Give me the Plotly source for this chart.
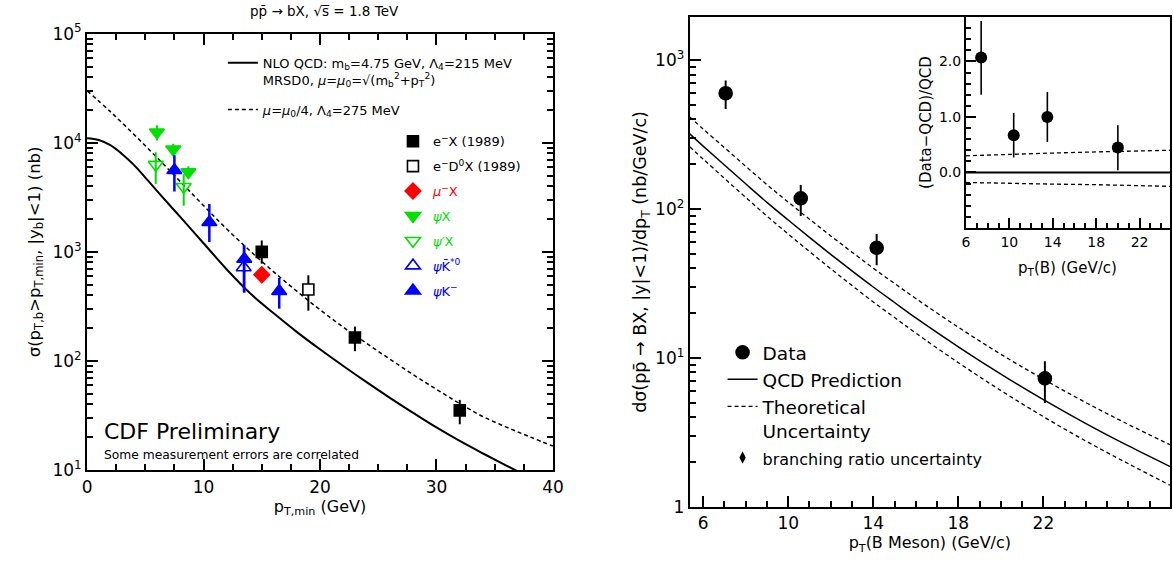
import plotly.graph_objects as go

FONT = "DejaVu Sans"
BLACK = "black"
RED = "#ff0000"
GREEN = "#00e000"
BLUE = "#0000ff"
SHORT_DASH = "4px,3px"

# ---------------- left panel: integrated b cross section ----------------
pt_min = [0, 1, 2, 3, 4, 5, 6, 8, 10, 12, 14, 16, 18, 20, 22, 24, 26, 28, 30, 32, 34, 36, 38, 40]
nlo_central = [11000, 10600, 9500, 7900, 6300, 4800, 3630, 2090, 1200, 690, 417, 275, 185, 128,
               90, 64, 46, 33.5, 24.6, 18.5, 14.2, 11.0, 8.6, 6.8]
pt_min_dash = [0, 2, 4, 6, 8, 10, 12, 14, 16, 18, 20, 22, 24, 26, 28, 30, 32, 34, 36, 38, 40]
nlo_low_scale = [30000, 19300, 12000, 7330, 4420, 2660, 1620, 1020, 660, 437, 295, 204, 145, 104,
                 75, 55, 40.7, 30.9, 24.8, 20.2, 16.6]

ex_pt = [15, 23, 32]
ex_sig = [1000, 164, 35.3]
ex_up = [270, 43, 8.7]
ex_dn = [220, 41, 9.0]

ed0x_pt = [19]
ed0x_sig = [452]
ed0x_up = [158]
ed0x_dn = [163]

mux_pt = [15]
mux_sig = [618]
mux_up = [100]
mux_dn = [100]

psix_pt = [6.0, 7.4, 8.7]
psix_sig = [12500, 8700, 5400]
psix_up = [2000, 1100, 700]
psix_dn = [2000, 1100, 700]

psi2x_pt = [5.9, 8.3]
psi2x_sig = [6300, 3950]
psi2x_up = [1900, 1200]
psi2x_dn = [2100, 1300]

psikst_pt = [13.45]
psikst_sig = [720]
psikst_up = [430]
psikst_dn = [290]

psik_pt = [7.5, 10.5, 13.5, 16.5]
psik_sig = [5600, 1870, 860, 437]
psik_up = [2100, 870, 290, 141]
psik_dn = [2030, 640, 437, 135]

# ---------------- right panel: differential B meson cross section ----------------
pt_b = [5.37, 6, 7, 8, 9, 10, 11, 12, 13, 14, 15, 16, 18, 20, 22, 24, 26, 27.95]
qcd = [320, 265, 198, 148, 111, 84.5, 64.6, 49.7, 38.5, 30.0, 23.6, 18.6, 11.9, 7.80, 5.25,
       3.63, 2.57, 1.87]
qcd_hi = [416, 345, 259, 194, 146, 111.5, 85.6, 66.1, 51.4, 40.1, 31.7, 25.1, 16.1, 10.6, 7.21,
          5.02, 3.58, 2.62]
qcd_lo = [262, 217, 161, 120, 89.8, 68.1, 51.9, 39.8, 30.7, 23.8, 18.7, 14.7, 9.31, 6.05, 4.04,
          2.77, 1.95, 1.40]

data_pt = [7.06, 10.59, 14.16, 22.07]
data_sig = [600, 118, 55, 7.3]
data_up = [130, 27, 13, 2.2]
data_dn = [130, 28, 13, 2.3]

# inset: (Data-QCD)/QCD
ratio_pt = [7.4, 10.4, 13.5, 20.0]
ratio = [2.07, 0.67, 1.0, 0.45]
ratio_up = [0.66, 0.40, 0.45, 0.40]
ratio_dn = [0.67, 0.40, 0.45, 0.41]
band_pt = [6, 10, 14, 18, 22, 24.8]
band_hi = [0.30, 0.33, 0.35, 0.37, 0.39, 0.40]
band_lo = [-0.18, -0.20, -0.21, -0.22, -0.24, -0.25]
zero_pt = [6, 24.8]
zero_val = [0, 0]

fig = go.Figure()


def points(x, y, up, dn, symbol, color, size, name, legend, fill=None, lw=2.0, xa="x", ya="y"):
    return go.Scatter(
        x=x, y=y, mode="markers", name=name, legend=legend, legendgroup=name,
        xaxis=xa, yaxis=ya,
        marker=dict(symbol=symbol, size=size, color=fill or color,
                    line=dict(color=color, width=1.6)),
        error_y=dict(type="data", array=up, arrayminus=dn, color=color,
                     thickness=lw, width=0),
    )


# theory curves, left
fig.add_trace(go.Scatter(
    x=pt_min, y=nlo_central, mode="lines", line=dict(color=BLACK, width=2, shape="spline"),
    name=("NLO QCD: m<sub>b</sub>=4.75 GeV, Λ<sub>4</sub>=215 MeV<br>"
          "MRSD0, <i>μ</i>=<i>μ</i><sub>0</sub>=√(m<sub>b</sub><sup>2</sup>+p<sub>T</sub><sup>2</sup>)"),
    legend="legend", legendgroup="c1", xaxis="x", yaxis="y"))
fig.add_trace(go.Scatter(
    x=pt_min_dash, y=nlo_low_scale, mode="lines",
    line=dict(color=BLACK, width=1.5, dash=SHORT_DASH, shape="spline"),
    name="<i>μ</i>=<i>μ</i><sub>0</sub>/4, Λ<sub>4</sub>=275 MeV",
    legend="legend", legendgroup="c2", xaxis="x", yaxis="y"))

# measurements, left
fig.add_trace(points(ex_pt, ex_sig, ex_up, ex_dn, "square", BLACK, 11,
                     "e<sup>−</sup>X (1989)", "legend2"))
fig.add_trace(points(ed0x_pt, ed0x_sig, ed0x_up, ed0x_dn, "square", BLACK, 11,
                     "e<sup>−</sup>D<sup>0</sup>X (1989)", "legend2", fill="white"))
fig.add_trace(points(mux_pt, mux_sig, mux_up, mux_dn, "diamond", RED, 12,
                     f"<span style='color:{RED}'><i>μ</i><sup>−</sup>X</span>", "legend2"))
fig.add_trace(points(psix_pt, psix_sig, psix_up, psix_dn, "triangle-down", GREEN, 13,
                     f"<span style='color:{GREEN}'><i>ψ</i>X</span>", "legend2"))
fig.add_trace(points(psi2x_pt, psi2x_sig, psi2x_up, psi2x_dn, "triangle-down-open", GREEN, 13,
                     f"<span style='color:{GREEN}'><i>ψ′</i>X</span>", "legend2"))
fig.add_trace(points(psikst_pt, psikst_sig, psikst_up, psikst_dn, "triangle-up-open", BLUE, 13,
                     f"<span style='color:{BLUE}'><i>ψ</i>K̄<sup>*0</sup></span>", "legend2"))
fig.add_trace(points(psik_pt, psik_sig, psik_up, psik_dn, "triangle-up", BLUE, 13,
                     f"<span style='color:{BLUE}'><i>ψ</i>K<sup>−</sup></span>", "legend2", lw=2.5))

# right main panel
fig.add_trace(points(data_pt, data_sig, data_up, data_dn, "circle", BLACK, 13, "Data", "legend3",
                     xa="x2", ya="y2"))
fig.add_trace(go.Scatter(x=pt_b, y=qcd, mode="lines", line=dict(color=BLACK, width=1.5, shape="spline"),
                         name="QCD Prediction", legend="legend3", legendgroup="q",
                         xaxis="x2", yaxis="y2"))
fig.add_trace(go.Scatter(x=pt_b, y=qcd_hi, mode="lines",
                         line=dict(color=BLACK, width=1.3, dash=SHORT_DASH, shape="spline"),
                         name="Theoretical<br>Uncertainty", legend="legend3", legendgroup="u",
                         xaxis="x2", yaxis="y2"))
fig.add_trace(go.Scatter(x=pt_b, y=qcd_lo, mode="lines",
                         line=dict(color=BLACK, width=1.3, dash=SHORT_DASH, shape="spline"),
                         showlegend=False, legendgroup="u", xaxis="x2", yaxis="y2"))
fig.add_trace(go.Scatter(x=[None], y=[None], mode="markers",
                         marker=dict(symbol="diamond-tall", size=9, color=BLACK),
                         name="<span style='font-size:16px'>branching ratio uncertainty</span>",
                         legend="legend3", legendgroup="br", xaxis="x2", yaxis="y2"))

# inset
fig.add_trace(go.Scatter(x=zero_pt, y=zero_val, mode="lines", line=dict(color=BLACK, width=2),
                         showlegend=False, xaxis="x3", yaxis="y3"))
fig.add_trace(go.Scatter(x=band_pt, y=band_hi, mode="lines",
                         line=dict(color=BLACK, width=1.3, dash=SHORT_DASH),
                         showlegend=False, xaxis="x3", yaxis="y3"))
fig.add_trace(go.Scatter(x=band_pt, y=band_lo, mode="lines",
                         line=dict(color=BLACK, width=1.3, dash=SHORT_DASH),
                         showlegend=False, xaxis="x3", yaxis="y3"))
fig.add_trace(go.Scatter(x=ratio_pt, y=ratio, mode="markers", showlegend=False,
                         marker=dict(symbol="circle", size=12, color=BLACK),
                         error_y=dict(type="data", array=ratio_up, arrayminus=ratio_dn,
                                      color=BLACK, thickness=1.6, width=0),
                         xaxis="x3", yaxis="y3"))

axis_common = dict(showline=True, linecolor=BLACK, linewidth=2, ticks="inside",
                   tickcolor=BLACK, tickwidth=1.5, showgrid=False, zeroline=False,
                   automargin=False, tickfont=dict(size=17, family=FONT, color=BLACK))

dec = lambda lo, hi: [10 ** k for k in range(lo, hi + 1)]

fig.update_layout(
    width=1173, height=561, autosize=False,
    margin=dict(l=0, r=0, t=0, b=0),
    paper_bgcolor="white", plot_bgcolor="white",
    font=dict(family=FONT, color=BLACK),
    xaxis=dict(axis_common, domain=[0.0742, 0.4714], range=[0, 40], anchor="y",
               mirror="ticks", tickmode="array", tickvals=[0, 10, 20, 30, 40], ticklen=11,
               minor=dict(dtick=2.5, tick0=0, ticks="inside", ticklen=6, tickcolor=BLACK),
               title=dict(text="p<sub>T,min</sub> (GeV)", font=dict(size=16), standoff=2)),
    yaxis=dict(axis_common, domain=[0.162, 0.94], type="log", range=[1, 5], anchor="x",
               mirror="ticks", tickmode="array", tickvals=dec(1, 5),
               ticktext=[f"10<sup>{k}</sup>" for k in range(1, 6)], ticklen=11,
               minor=dict(dtick="D1", ticks="inside", ticklen=6, tickcolor=BLACK),
               title=dict(text="σ(p<sub>T,b</sub>>p<sub>T,min</sub>, |y<sub>b</sub>|<1) (nb)",
                          font=dict(size=16.5), standoff=8)),
    xaxis2=dict(axis_common, domain=[0.588, 0.9974], range=[5.37, 27.95], anchor="y2",
                mirror=True, tickmode="array", tickvals=[6, 10, 14, 18, 22], ticklen=11,
                minor=dict(dtick=1, tick0=6, ticks="inside", ticklen=6, tickcolor=BLACK),
                title=dict(text="p<sub>T</sub>(B Meson) (GeV/c)", font=dict(size=16), standoff=2)),
    yaxis2=dict(axis_common, domain=[0.0963, 0.9697], type="log", range=[0, 3.29], anchor="x2",
                mirror=True, tickmode="array", tickvals=dec(0, 3),
                ticktext=["1", "10<sup>1</sup>", "10<sup>2</sup>", "10<sup>3</sup>"], ticklen=11,
                minor=dict(dtick="D1", ticks="inside", ticklen=6, tickcolor=BLACK),
                title=dict(text="dσ(pp̄ → BX, |y|<1)/dp<sub>T</sub> (nb/GeV/c)",
                           font=dict(size=17.5), standoff=4)),
    xaxis3=dict(axis_common, domain=[0.8235, 0.9974], range=[6, 24.8], anchor="y3",
                tickmode="array", tickvals=[6, 10, 14, 18, 22], ticklen=10,
                tickfont=dict(size=14, family=FONT, color=BLACK),
                minor=dict(dtick=1, tick0=6, ticks="inside", ticklen=5, tickcolor=BLACK)),
    yaxis3=dict(axis_common, domain=[0.5936, 0.9697], range=[-1, 2.8], anchor="x3",
                tickmode="array", tickvals=[0, 1, 2], ticktext=["0.0", "1.0", "2.0"], ticklen=10,
                tickfont=dict(size=14, family=FONT, color=BLACK),
                minor=dict(dtick=0.2, tick0=0, ticks="inside", ticklen=5, tickcolor=BLACK),
                title=dict(text="(Data−QCD)/QCD", font=dict(size=15), standoff=4)),
    legend=dict(x=0.19, y=0.915, xanchor="left", yanchor="top", bgcolor="rgba(0,0,0,0)",
                font=dict(size=13, family=FONT), itemwidth=30, tracegroupgap=10, valign="top"),
    legend2=dict(x=0.335, y=0.775, xanchor="left", yanchor="top", bgcolor="rgba(0,0,0,0)",
                 font=dict(size=13, family=FONT), itemwidth=30, tracegroupgap=5),
    legend3=dict(x=0.616, y=0.405, xanchor="left", yanchor="top", bgcolor="rgba(0,0,0,0)",
                 font=dict(size=18.5, family=FONT), itemwidth=30, tracegroupgap=0, valign="top"),
    annotations=[
        dict(text="pp̄ → bX, √s̅ = 1.8 TeV", x=0.277, y=1.0, xref="paper", yref="paper",
             xanchor="center", yanchor="top", yshift=-1, showarrow=False, font=dict(size=13.5)),
        dict(text="CDF Preliminary", x=0.087, y=0.23, xref="paper", yref="paper",
             xanchor="left", yanchor="middle", showarrow=False, font=dict(size=22)),
        dict(text="Some measurement errors are correlated", x=0.087, y=0.189, xref="paper",
             yref="paper", xanchor="left", yanchor="middle", showarrow=False, font=dict(size=12.3)),
        dict(text="p<sub>T</sub>(B) (GeV/c)", x=0.91, y=0.522, xref="paper", yref="paper",
             xanchor="center", yanchor="middle", showarrow=False, font=dict(size=15)),
    ],
)

fig.write_html("out.html")
